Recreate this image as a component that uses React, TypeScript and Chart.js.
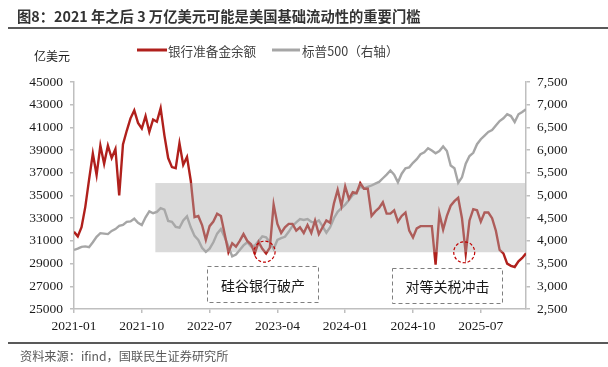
import React, { useEffect, useRef } from "react";
import { Chart, registerables } from "chart.js";

Chart.register(...registerables);

// ---------- data ----------
const titleText = "图8：2021 年之后 3 万亿美元可能是美国基础流动性的重要门槛";
const sourceText = "资料来源：ifind，国联民生证券研究所";
const unitLabel = "亿美元";
const seriesNames = ["银行准备金余额", "标普500（右轴）"];

// half-month dates 2021-01-01 .. 2026-01-01 (121 points)
const dates: string[] = [];
for (let m = 0; m <= 60; m++) {
  const y = 2021 + Math.floor(m / 12);
  const mm = String((m % 12) + 1).padStart(2, "0");
  dates.push(`${y}-${mm}-01`);
  if (m < 60) dates.push(`${y}-${mm}-16`);
}

const tickDates = ["2021-01", "2021-10", "2022-07", "2023-04", "2024-01", "2024-10", "2025-07"];

// 银行准备金余额 (亿美元, left axis)
const reserves = [
  31800, 31400, 32200, 34000, 36400, 38700, 36800, 39400, 37800, 39400,
  38300, 39100, 35000, 39500, 40700, 41800, 42500, 41400, 40900, 42000,
  40600, 41700, 41500, 42700, 40300, 38300, 37500, 37400, 39600, 37700,
  38400, 36300, 33100, 33200, 32400, 31100, 32300, 32700, 33400, 33200,
  31600, 30000, 30800, 30500, 31000, 31600, 31000, 30700, 29900, 30900,
  30300, 29900, 30400, 34200, 32500, 31700, 32200, 32500, 32500, 31900,
  32200, 31700, 32400, 31700, 32800, 31600, 32200, 32800, 32600, 34300,
  35500, 34100, 35800, 34700, 35300, 35200, 36100, 35600, 35600, 33200,
  33600, 33900, 34400, 33400, 33400, 33700, 32700, 33200, 33500, 31900,
  31300, 32100, 32300, 32300, 32300, 32300, 28900, 33400, 32000, 33200,
  34100, 34500, 34800, 33000, 29900, 32800, 33800, 33700, 32700, 33500,
  33500, 33000, 31900, 30200, 29900, 29000, 28800, 28700, 29200, 29500,
  29900,
];

// 标普500 (right axis)
const spx = [
  3800, 3830, 3870, 3880, 3860, 3970, 4090, 4170, 4160, 4150,
  4220, 4260, 4330, 4350, 4420, 4430, 4490, 4400, 4350, 4520,
  4650, 4610, 4640, 4720, 4690, 4440, 4420, 4310, 4290, 4450,
  4540, 4300, 4110, 4020, 3850, 3760, 3830, 3970, 4160, 4260,
  4080, 3880, 3660, 3700, 3800, 3900, 3970, 3880, 3900, 4000,
  4100, 4080, 3970, 3820, 4020, 4060, 4090, 4200, 4330, 4410,
  4480, 4460, 4480, 4420, 4400, 4450, 4320, 4180, 4300, 4500,
  4640, 4720, 4800, 4900, 5010, 5060, 5200, 5150, 5190, 5220,
  5260, 5300, 5380, 5460, 5550, 5460, 5290, 5480, 5600, 5620,
  5720, 5800, 5910, 5950, 6040, 5990, 5930, 5980, 6080, 5980,
  5660, 5600, 5280, 5400, 5700, 5870, 5940, 6130, 6240, 6320,
  6400, 6440, 6540, 6640, 6700, 6790, 6750, 6620, 6790, 6840,
  6900,
];

// shaded band (x from index, y in left-axis units)
const bandStartIdx = 21.6;
const bandLow = 30000;
const bandHigh = 36100;

// events: circle centre (index, left value), box extents (index, left value)
const eventLabels = ["硅谷银行破产", "对等关税冲击"];
const eventCircleIdx = [50.6, 103.6];
const eventCircleVal = [30050, 30000];
const eventBoxIdx0 = [35.4, 84.4];
const eventBoxIdx1 = [64.7, 113.7];
const eventBoxTop = [28800, 28600];
const eventBoxBottom = [25650, 25560];

// ---------- styling ----------
const RED = "#B0201C";
const GRAY = "#A6A6A6";
const AXIS = "#BFBFBF";
const SERIF = "'Liberation Serif', 'Times New Roman', serif";
const SANS = "'Noto Sans CJK SC', 'Noto Sans', sans-serif";

const overlayPlugin = {
  id: "overlay",
  beforeDraw(chart: any) {
    const ctx = chart.ctx;
    ctx.save();
    ctx.fillStyle = "#ffffff";
    ctx.fillRect(0, 0, chart.width, chart.height);
    ctx.restore();
  },
  afterDatasetsDraw(chart: any) {
    const ctx = chart.ctx;
    const xs = chart.scales.x;
    const ys = chart.scales.y;
    const area = chart.chartArea;
    ctx.save();
    // band
    const bx0 = xs.getPixelForValue(bandStartIdx);
    const by0 = ys.getPixelForValue(bandHigh);
    const by1 = ys.getPixelForValue(bandLow);
    ctx.fillStyle = "rgba(170,170,170,0.44)";
    ctx.fillRect(bx0, by0, area.right - 1 - bx0, by1 - by0);

    // circles
    ctx.strokeStyle = "#C00000";
    ctx.lineWidth = 1.2;
    ctx.setLineDash([3, 2]);
    for (let i = 0; i < eventLabels.length; i++) {
      const cx = xs.getPixelForValue(eventCircleIdx[i]);
      const cy = ys.getPixelForValue(eventCircleVal[i]);
      ctx.beginPath();
      ctx.arc(cx, cy, 10.5, 0, Math.PI * 2);
      ctx.stroke();
    }
    // boxes
    ctx.strokeStyle = "#7F7F7F";
    ctx.lineWidth = 1;
    ctx.setLineDash([4, 3]);
    for (let i = 0; i < eventLabels.length; i++) {
      const x0 = Math.round(xs.getPixelForValue(eventBoxIdx0[i])) + 0.5;
      const x1 = Math.round(xs.getPixelForValue(eventBoxIdx1[i])) + 0.5;
      const y0 = Math.round(ys.getPixelForValue(eventBoxTop[i])) + 0.5;
      const y1 = Math.round(ys.getPixelForValue(eventBoxBottom[i])) + 0.5;
      ctx.fillStyle = "#ffffff";
      ctx.fillRect(x0, y0, x1 - x0, y1 - y0);
      ctx.strokeRect(x0, y0, x1 - x0, y1 - y0);
      ctx.fillStyle = "#1a1a1a";
      ctx.font = `14px ${SANS}`;
      ctx.textAlign = "center";
      ctx.textBaseline = "middle";
      ctx.fillText(eventLabels[i], (x0 + x1) / 2, (y0 + y1) / 2 + 1);
    }
    ctx.restore();
  },
  afterDraw(chart: any) {
    const ctx = chart.ctx;
    ctx.save();
    // title
    ctx.fillStyle = "#333333";
    ctx.font = `bold 14.3px ${SANS}`;
    ctx.textAlign = "left";
    ctx.textBaseline = "middle";
    ctx.fillText(titleText, 17, 17);
    ctx.fillStyle = "#595959";
    ctx.fillRect(8, 27, 600, 2);
    // footer
    ctx.fillRect(8, 342, 600, 2);
    ctx.fillStyle = "#595959";
    ctx.font = `12.2px ${SANS}`;
    ctx.fillText(sourceText, 20, 356);
    // unit
    ctx.fillStyle = "#1a1a1a";
    ctx.font = `12px ${SANS}`;
    ctx.fillText(unitLabel, 34, 56);
    // legend
    ctx.lineWidth = 3;
    ctx.strokeStyle = RED;
    ctx.beginPath();
    ctx.moveTo(137, 50);
    ctx.lineTo(167, 50);
    ctx.stroke();
    ctx.strokeStyle = GRAY;
    ctx.beginPath();
    ctx.moveTo(272, 50);
    ctx.lineTo(300, 50);
    ctx.stroke();
    ctx.fillStyle = "#404040";
    ctx.font = `12.6px ${SANS}`;
    ctx.fillText(seriesNames[0], 168, 51);
    ctx.fillText(seriesNames[1], 302, 51);
    ctx.restore();
  },
};

export default function App() {
  const ref = useRef<HTMLCanvasElement | null>(null);

  useEffect(() => {
    if (!ref.current) return;
    const tickIdx = tickDates.map((t) => dates.indexOf(`${t}-01`));
    const chart = new Chart(ref.current, {
      type: "line",
      data: {
        datasets: [
          {
            label: seriesNames[0],
            data: reserves.map((v, i) => ({ x: i, y: v })),
            borderColor: RED,
            borderWidth: 2.4,
            pointRadius: 0,
            tension: 0,
            yAxisID: "y",
          },
          {
            label: seriesNames[1],
            data: spx.map((v, i) => ({ x: i, y: v })),
            borderColor: GRAY,
            borderWidth: 2.4,
            pointRadius: 0,
            tension: 0,
            yAxisID: "y1",
          },
        ],
      },
      options: {
        responsive: false,
        animation: false,
        devicePixelRatio: 1,
        layout: { padding: { top: 82, left: 0, right: 0, bottom: 0 } },
        plugins: { legend: { display: false }, tooltip: { enabled: false } },
        scales: {
          x: {
            type: "linear",
            min: 0,
            max: dates.length - 1,
            afterBuildTicks: (s: any) => {
              s.ticks = tickIdx.map((v) => ({ value: v }));
            },
            afterFit: (s: any) => {
              s.height = 58;
            },
            ticks: {
              autoSkip: false,
              maxRotation: 0,
              padding: 5,
              color: "#1a1a1a",
              font: { family: SERIF, size: 13.5 },
              callback: (_v: any, i: number) => tickDates[i],
            },
            grid: { drawOnChartArea: false, drawTicks: true, tickLength: 4, color: AXIS, lineWidth: 1.5 },
            border: { display: true, color: AXIS, width: 1.5 },
          },
          y: {
            position: "left",
            min: 25000,
            max: 45000,
            afterFit: (s: any) => {
              s.width = 74;
            },
            ticks: {
              stepSize: 2000,
              padding: 7,
              color: "#1a1a1a",
              font: { family: SERIF, size: 13.5 },
              callback: (v: any) => String(v),
            },
            grid: { drawOnChartArea: false, drawTicks: true, tickLength: 4, color: AXIS, lineWidth: 1.5 },
            border: { display: true, color: AXIS, width: 1.5 },
          },
          y1: {
            position: "right",
            min: 2500,
            max: 7500,
            afterFit: (s: any) => {
              s.width = 82;
            },
            ticks: {
              stepSize: 500,
              padding: 7,
              color: "#1a1a1a",
              font: { family: SERIF, size: 13.5 },
              callback: (v: any) => Number(v).toLocaleString("en-US"),
            },
            grid: { drawOnChartArea: false, drawTicks: true, tickLength: 4, color: AXIS, lineWidth: 1.5 },
            border: { display: true, color: AXIS, width: 1.5 },
          },
        },
      },
      plugins: [overlayPlugin],
    } as any);
    return () => chart.destroy();
  }, []);

  return (
    <div style={{ position: "fixed", left: 0, top: 0, width: 608, height: 367, background: "#fff" }}>
      <canvas ref={ref} width={608} height={367} style={{ display: "block" }} />
    </div>
  );
}
